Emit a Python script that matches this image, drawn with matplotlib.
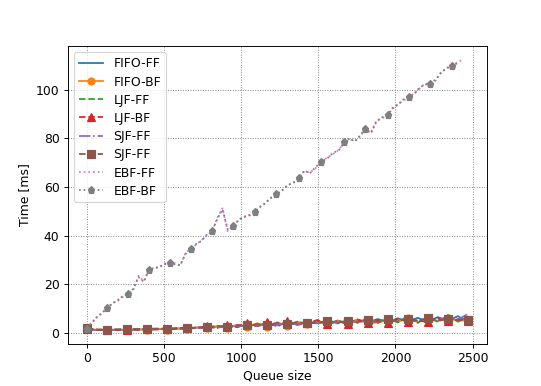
import numpy as np
import matplotlib
matplotlib.use("Agg")
import matplotlib.pyplot as plt

# queue sizes for the FF/BF runs of FIFO, LJF, SJF
queue = np.arange(0, 2471, 65)

fifo_ff = [1.4, 1.2, 1.2, 1.3, 1.3, 1.4, 1.5, 1.6, 1.5, 1.8, 1.7, 2.2, 2.0, 2.6, 2.3, 3.1, 2.7, 3.5, 2.9, 3.9,
           3.3, 4.3, 3.6, 4.6, 3.8, 5.1, 4.0, 5.4, 4.3, 5.7, 4.4, 6.0, 4.8, 6.2, 4.6, 6.5, 5.0, 6.9, 4.2]
fifo_bf = [1.7, 1.3, 1.2, 1.4, 1.2, 1.5, 1.3, 1.7, 1.4, 1.9, 1.6, 2.3, 1.9, 2.8, 2.2, 3.3, 2.5, 4.0, 2.4, 4.3,
           3.0, 4.6, 3.5, 5.2, 3.6, 4.9, 3.9, 5.6, 4.1, 4.2, 5.3, 4.5, 6.1, 4.4, 5.7, 4.8, 6.3, 4.9, 5.4]
ljf_ff = [1.5, 1.3, 1.2, 1.2, 1.4, 1.3, 1.5, 1.5, 1.7, 1.6, 1.9, 2.0, 2.3, 2.2, 2.7, 2.6, 3.2, 2.8, 3.7, 3.1,
          4.2, 3.4, 4.8, 3.7, 5.4, 3.9, 5.8, 4.1, 6.2, 4.0, 6.6, 4.3, 6.9, 4.1, 7.2, 4.4, 7.4, 4.6, 6.8]
ljf_bf = [1.6, 1.3, 1.3, 1.2, 1.4, 1.3, 1.5, 1.4, 1.8, 1.6, 2.1, 2.0, 2.7, 2.1, 3.4, 2.3, 3.9, 2.8, 4.4, 2.6,
          4.9, 3.3, 4.1, 5.3, 3.5, 4.8, 3.7, 5.5, 4.0, 5.1, 3.9, 5.8, 4.6, 5.2, 4.4, 6.0, 4.7, 5.6, 5.1]
sjf_ff = [1.5, 1.2, 1.2, 1.3, 1.3, 1.4, 1.4, 1.5, 1.6, 1.7, 1.8, 2.0, 2.1, 2.4, 2.5, 2.8, 3.0, 3.0, 3.4, 3.4,
          3.8, 3.7, 4.3, 3.9, 4.6, 4.2, 5.0, 4.4, 5.3, 4.6, 5.5, 4.9, 5.8, 5.1, 6.1, 5.3, 6.4, 5.5, 7.8]
sjf_bf = [1.9, 1.4, 1.4, 1.5, 1.5, 1.6, 1.7, 1.8, 1.8, 2.0, 2.1, 2.2, 2.4, 2.9, 2.6, 3.2, 3.3, 3.6, 3.2, 4.2,
          3.6, 4.5, 3.9, 4.3, 4.8, 4.1, 5.1, 4.4, 5.2, 4.6, 5.6, 4.8, 5.9, 5.0, 6.0, 5.2, 5.7, 5.4, 5.3]

# EBF runs, sampled at other queue sizes
queue_ebf = [0, 33, 66, 100, 133, 167, 201, 235, 269, 303, 336, 370, 403, 437, 471, 504,
             538, 572, 606, 640, 674, 708, 743, 777, 812, 846, 880, 914, 948, 983, 1018, 1053,
             1088, 1123, 1158, 1193, 1228, 1264, 1301, 1337, 1374, 1410, 1446, 1483, 1519, 1557, 1594, 1632,
             1670, 1704, 1738, 1771, 1805, 1841, 1878, 1914, 1950, 1984, 2018, 2052, 2086, 2120, 2155, 2189,
             2224, 2260, 2295, 2331, 2366, 2401, 2436]
ebf_ff = [2.0, 4.4, 6.3, 8.0, 10.3, 11.9, 13.6, 14.8, 15.9, 17.8, 23.5, 21.3, 25.9, 26.3, 27.2, 28.1,
          28.7, 28.7, 27.6, 32.8, 34.6, 36.2, 38.1, 40.0, 41.7, 47.2, 51.2, 41.8, 43.8, 46.6, 47.4, 48.5,
          49.7, 51.6, 53.6, 55.3, 56.9, 58.6, 60.5, 61.8, 63.5, 66.4, 65.9, 67.7, 70.4, 72.0, 73.4, 75.2,
          78.3, 79.5, 79.0, 80.6, 83.8, 82.4, 87.3, 88.1, 89.7, 92.2, 94.1, 95.5, 96.9, 98.4, 100.3, 102.4,
          102.4, 103.6, 107.2, 108.6, 109.7, 111.2, 112.3]
ebf_bf = [1.8, 4.0, 6.6, 8.3, 10.3, 12.3, 13.2, 15.3, 15.9, 18.2, 22.9, 21.0, 25.9, 26.8, 27.0, 28.4,
          28.7, 28.2, 27.9, 32.4, 34.6, 36.5, 37.8, 40.3, 41.7, 46.8, 50.8, 42.3, 43.8, 46.2, 47.8, 48.2,
          49.7, 51.9, 53.2, 55.6, 56.9, 58.3, 60.8, 61.5, 63.5, 66.8, 65.6, 68.1, 70.4, 71.6, 73.9, 75.0,
          78.3, 79.9, 78.6, 81.2, 83.8, 82.0, 87.0, 88.6, 89.7, 92.6, 93.8, 95.9, 96.9, 98.0, 100.7, 102.0,
          102.4, 104.1, 106.8, 108.9, 109.7, 110.8]

plt.rcParams['font.size'] = 10.5

plt.figure(figsize=(6.4, 4.568), dpi=84.55)

plt.plot(queue, fifo_ff, '-', label='FIFO-FF')
plt.plot(queue, fifo_bf, '-', marker='o', markevery=2, label='FIFO-BF')
plt.plot(queue, ljf_ff, '--', label='LJF-FF')
plt.plot(queue, ljf_bf, '--', marker='^', markevery=2, label='LJF-BF')
plt.plot(queue, sjf_ff, '-.', label='SJF-FF')
plt.plot(queue, sjf_bf, '--', marker='s', markevery=2, label='SJF-FF')
plt.plot(queue_ebf, ebf_ff, ':', label='EBF-FF')
plt.plot(queue_ebf[:len(ebf_bf)], ebf_bf, ':', marker='p', markevery=4, label='EBF-BF')

plt.xlabel('Queue size')
plt.ylabel('Time [ms]')
plt.grid(True, linestyle=':', color='gray')
plt.legend(loc='upper left', labelspacing=0.42)

plt.savefig('out.png', dpi=84.55)
